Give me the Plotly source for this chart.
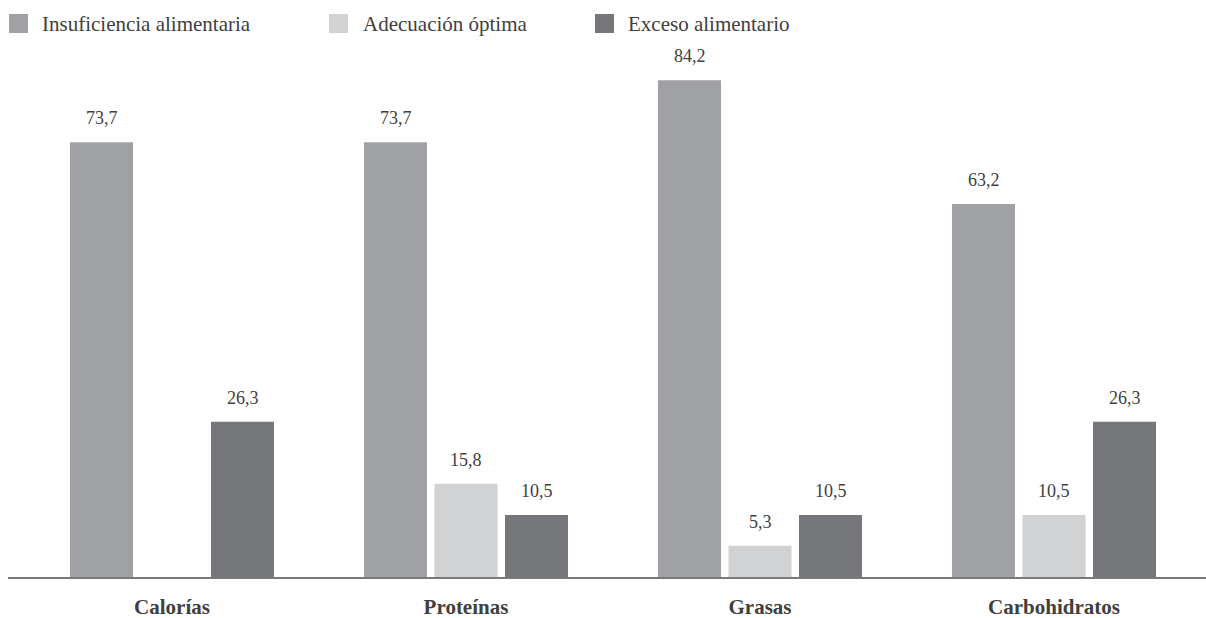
import plotly.graph_objects as go

categories = ["Calorías", "Proteínas", "Grasas", "Carbohidratos"]
series_names = ["Insuficiencia alimentaria", "Adecuación óptima", "Exceso alimentario"]
insuficiencia = [73.7, 73.7, 84.2, 63.2]
adecuacion = [None, 15.8, 5.3, 10.5]
exceso = [26.3, 10.5, 10.5, 26.3]

colors = ["#a0a1a5", "#d1d2d4", "#76777b"]
series = [insuficiencia, adecuacion, exceso]

W, H = 1206, 618
ml, mr, mt, mb = 8, 0, 60, 41
step_px = 294.0
xmin = -0.5 - 17 / step_px
xmax = xmin + (W - ml - mr) / step_px
ymax = (H - mt - mb) / 5.9

slot = 70.5 / step_px
bw = 63 / step_px
font_family = "Liberation Serif"
txt_color = "#404040"

fig = go.Figure()
xs = list(range(len(categories)))
annotations = []
for k, (name, vals, col) in enumerate(zip(series_names, series, colors)):
    off = (k - 1) * slot
    fig.add_trace(go.Bar(
        x=xs, y=vals, name=name, marker=dict(color=col, line=dict(width=0)),
        width=bw, offset=off - bw / 2, showlegend=False,
    ))
    for i, v in enumerate(vals):
        if v is None:
            continue
        annotations.append(dict(
            x=i + off, y=v, xref="x", yref="y", text=f"{v:.1f}".replace(".", ","),
            showarrow=False, yanchor="bottom", yshift=12,
            font=dict(family=font_family, size=18, color=txt_color),
        ))

# manual legend (layout positions in pixels converted to paper fractions)
pw, ph = W - ml - mr, H - mt - mb
def px_x(p):
    return (p - ml) / pw
def px_y(p):
    return (H - mb - p) / ph

shapes = []
legend_sq = [9, 329, 595]
legend_tx = [40, 361, 626]
for name, col, sx, tx in zip(series_names, colors, legend_sq, legend_tx):
    shapes.append(dict(type="rect", xref="paper", yref="paper",
                       x0=px_x(sx), x1=px_x(sx + 19), y0=px_y(33), y1=px_y(14),
                       fillcolor=col, line=dict(width=0)))
    annotations.append(dict(x=px_x(tx), y=px_y(24), xref="paper", yref="paper",
                            text=name, showarrow=False, xanchor="left", yanchor="middle",
                            font=dict(family=font_family, size=21, color=txt_color)))

fig.update_layout(
    width=W, height=H,
    margin=dict(l=ml, r=mr, t=mt, b=mb, autoexpand=False),
    paper_bgcolor="white", plot_bgcolor="white",
    barmode="overlay",
    font=dict(family=font_family, color=txt_color),
    xaxis=dict(range=[xmin, xmax], tickvals=xs, ticktext=categories,
               showline=True, linecolor="#7a7a7a", linewidth=1.5,
               showgrid=False, zeroline=False, ticks="", automargin=False,
               ticklabelstandoff=10,
               tickfont=dict(family=font_family, size=21, color=txt_color, weight="bold")),
    yaxis=dict(range=[0, ymax], visible=False, showgrid=False, zeroline=False,
               automargin=False),
    shapes=shapes,
    annotations=annotations,
)

fig.write_html("out.html")
